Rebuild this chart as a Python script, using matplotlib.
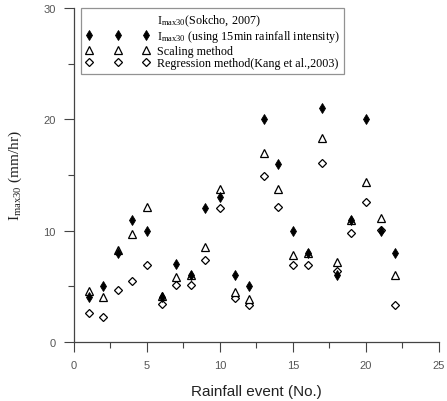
import matplotlib
matplotlib.use("Agg")
import matplotlib.pyplot as plt
from matplotlib.lines import Line2D
from matplotlib.ticker import MultipleLocator

events = list(range(1, 23))
imax30_15min = [4, 5, 8, 11, 10, 4, 7, 6, 12, 13, 6, 5, 20, 16, 10, 8, 21, 6, 11, 20, 10, 8]
scaling = [4.6, 4.0, 8.3, 9.7, 12.1, 4.1, 5.8, 6.0, 8.5, 13.7, 4.5, 3.9, 17.0, 13.7, 7.8, 8.0, 18.3, 7.2, 11.0, 14.4, 11.1, 6.0]
regression = [2.6, 2.2, 4.7, 5.5, 6.9, 3.4, 5.15, 5.15, 7.4, 12.0, 3.95, 3.35, 14.9, 12.1, 6.9, 6.9, 16.1, 6.35, 9.8, 12.6, 10.1, 3.35]

legend_title = "$\\mathregular{I_{max30}}$(Sokcho, 2007)"
labels = ["$\\mathregular{I_{max30}}$ (using 15min rainfall intensity)",
          "Scaling method",
          "Regression method(Kang et al.,2003)"]

fig = plt.figure(figsize=(4.47, 4.02), dpi=100)
ax = fig.add_axes([0.1655, 0.1468, 0.8165, 0.8308])

ax.plot(events, regression, linestyle="none", marker="D", markersize=4.2,
        markerfacecolor="white", markeredgecolor="black", markeredgewidth=0.9, label=labels[2], zorder=3)
ax.plot(events, scaling, linestyle="none", marker="^", markersize=5.5,
        markerfacecolor="white", markeredgecolor="black", markeredgewidth=0.9, label=labels[1], zorder=3)
ax.plot(events, imax30_15min, linestyle="none", marker="d", markersize=5.6,
        markerfacecolor="black", markeredgecolor="black", markeredgewidth=0.6, label=labels[0], zorder=4)

ax.set_xlim(0, 25)
ax.set_ylim(0, 30)
ax.xaxis.set_major_locator(MultipleLocator(5))
ax.xaxis.set_minor_locator(MultipleLocator(2.5))
ax.yaxis.set_major_locator(MultipleLocator(10))
ax.yaxis.set_minor_locator(MultipleLocator(5))
for s in ["top", "right"]:
    ax.spines[s].set_visible(False)
for s in ["left", "bottom"]:
    ax.spines[s].set_color("#444444")
    ax.spines[s].set_linewidth(0.9)
ax.tick_params(which="major", direction="out", length=7, width=0.8, color="#444444",
               labelsize=8, labelcolor="#555555", pad=6)
ax.tick_params(which="minor", direction="out", length=4, width=0.8, color="#444444")
for lab in ax.get_xticklabels() + ax.get_yticklabels():
    lab.set_family("Liberation Sans")

ax.set_xlabel("Rainfall event (No.)", fontsize=11, family="Liberation Sans", color="#222222", labelpad=10)
ax.set_ylabel("$\\mathregular{I_{max30}}$ (mm/hr)", fontsize=11, family="Liberation Serif", color="#222222", labelpad=14)

handles, hl = ax.get_legend_handles_labels()
order = [2, 1, 0]
blank = Line2D([], [], linestyle="none", marker=None)
leg = ax.legend([blank] + [handles[i] for i in order], [legend_title] + [hl[i] for i in order],
                loc="upper left", bbox_to_anchor=(0.02, 1.0), numpoints=3, handlelength=5.3,
                prop={"family": "Liberation Serif", "size": 8.7}, frameon=True, fancybox=False,
                borderpad=0.35, labelspacing=0.05, handletextpad=0.6, borderaxespad=0.0)
leg.get_frame().set_edgecolor("#777777")
leg.get_frame().set_linewidth(0.9)

fig.savefig("out.png", dpi=100)
